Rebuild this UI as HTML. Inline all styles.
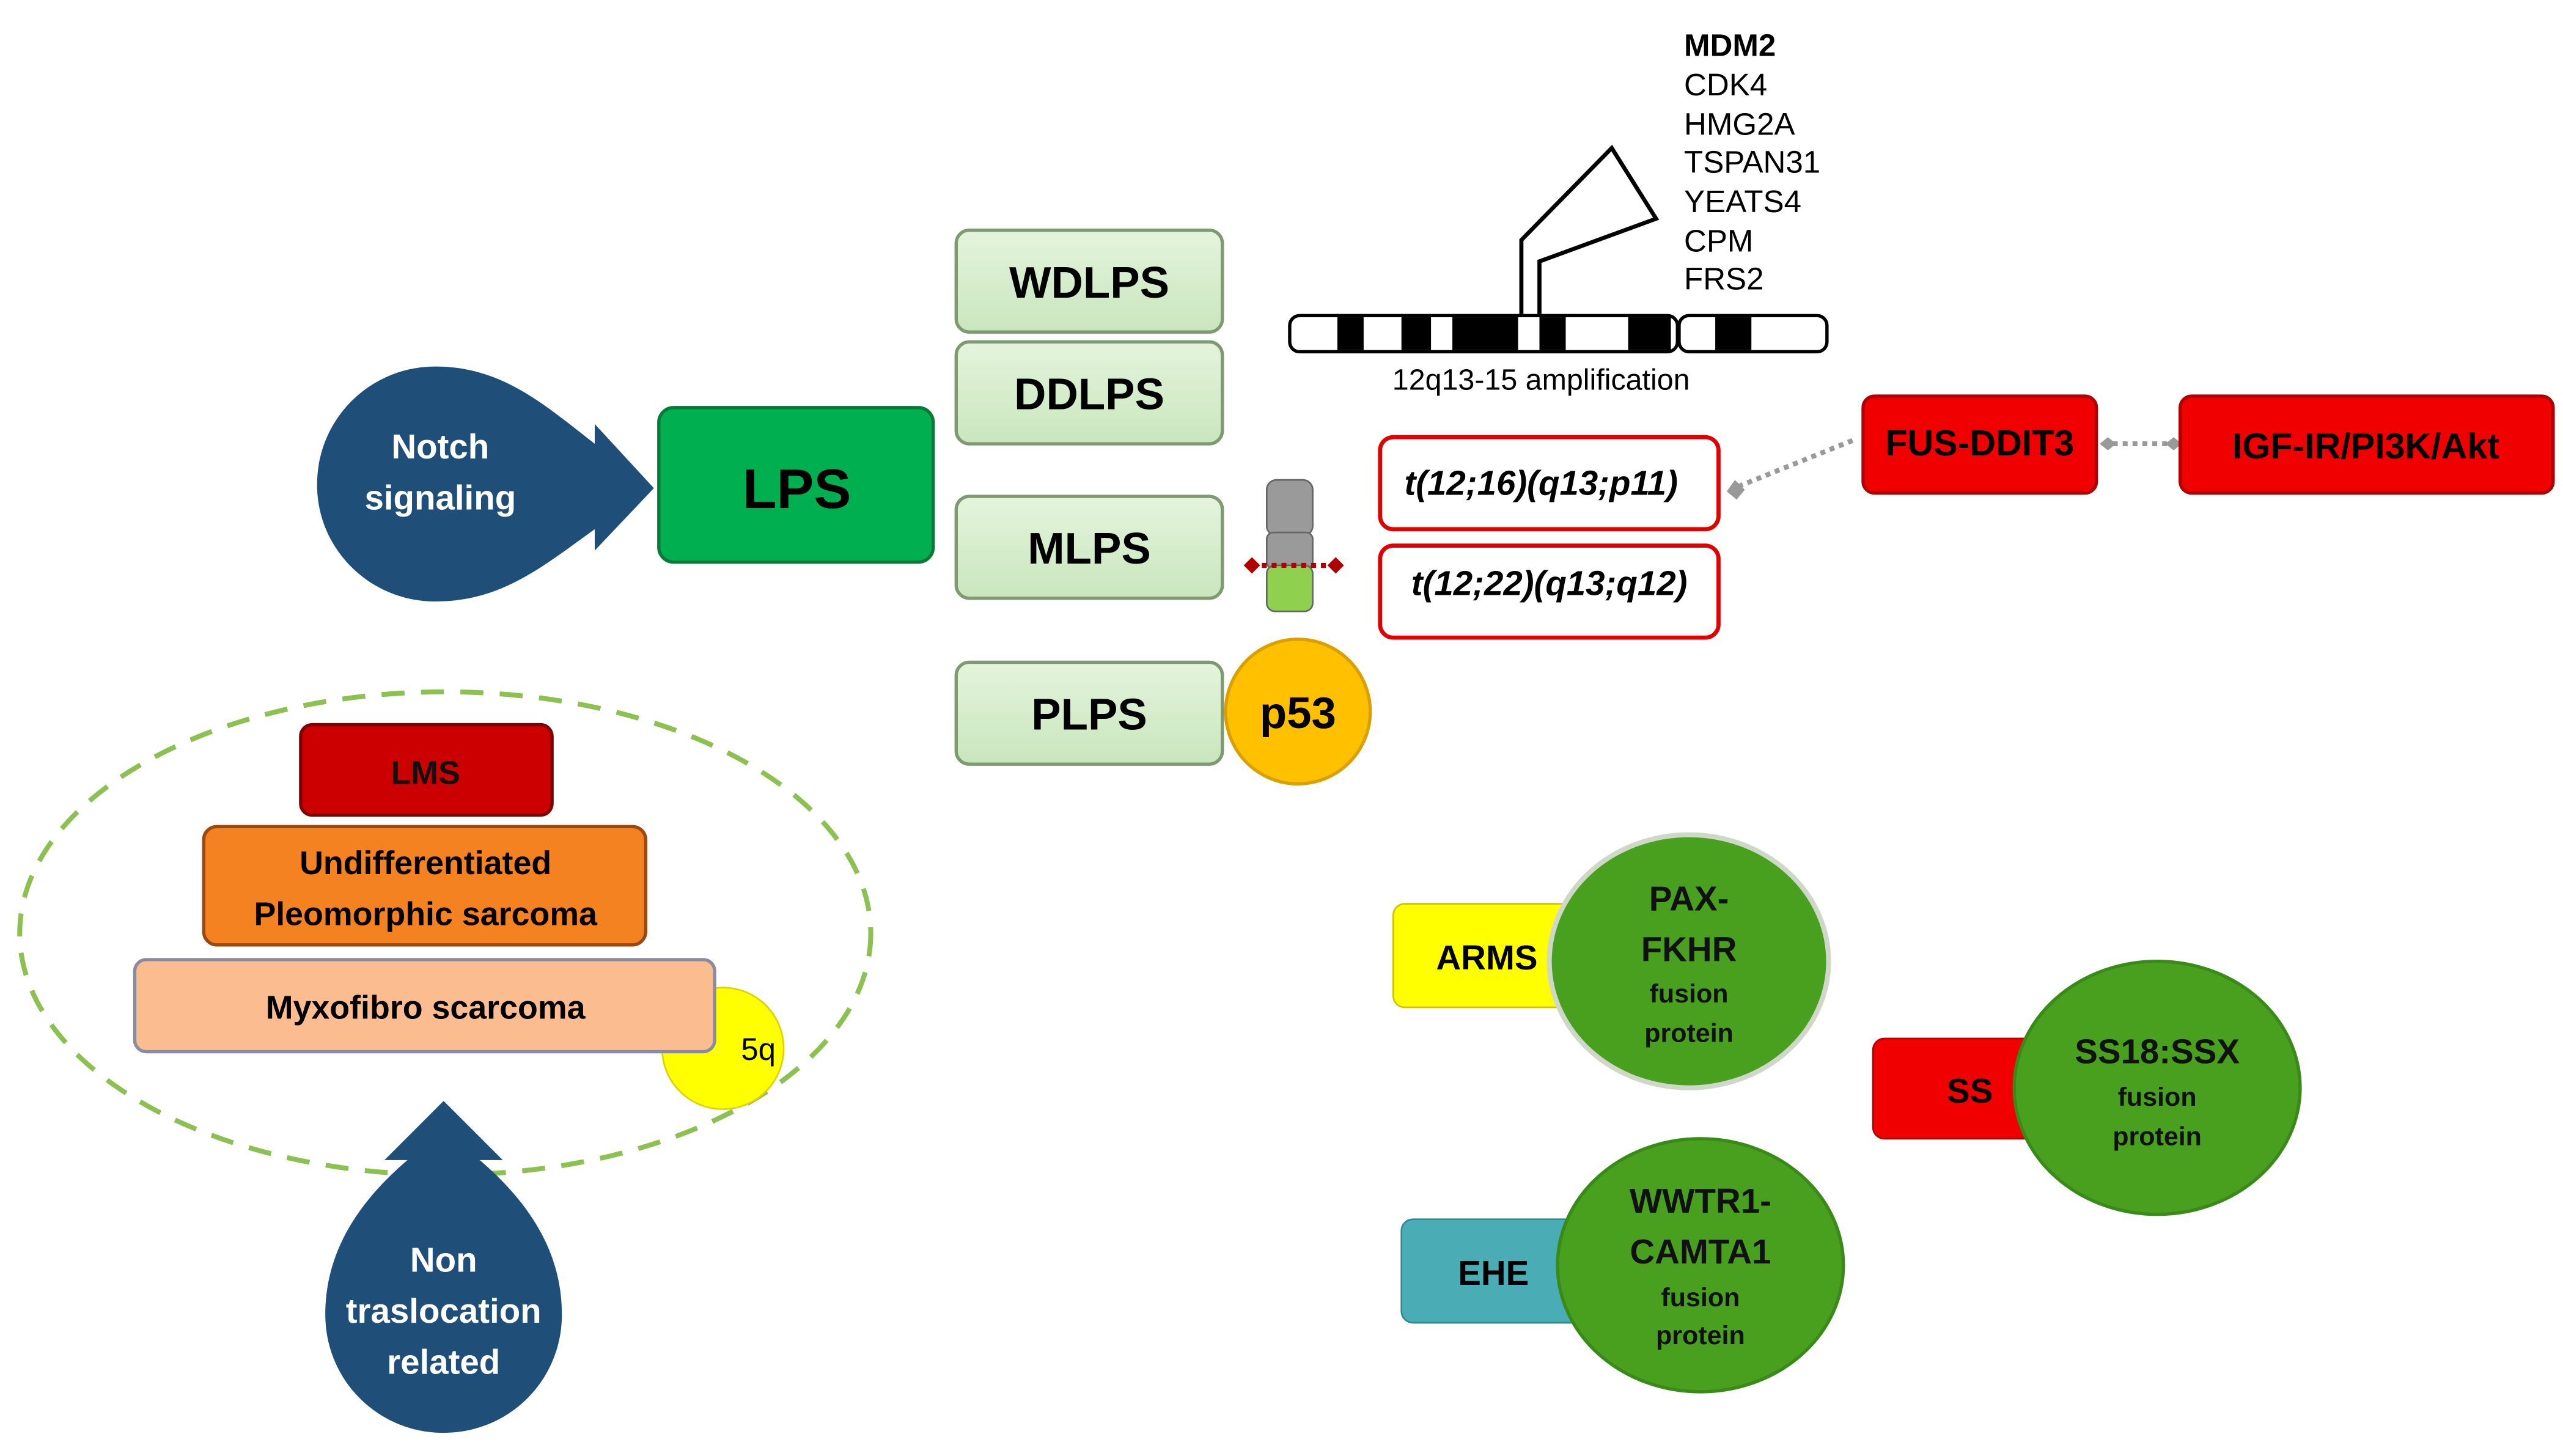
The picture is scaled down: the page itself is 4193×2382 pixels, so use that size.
<!DOCTYPE html>
<html><head><meta charset="utf-8"><style>
html,body{margin:0;padding:0;background:#fff;}
svg{display:block;}
text{font-family:"Liberation Sans",sans-serif;}
</style></head><body>
<svg width="4193" height="2382" viewBox="0 0 1560 886" xmlns="http://www.w3.org/2000/svg">
<defs>
<linearGradient id="lg" x1="0" y1="0" x2="0" y2="1"><stop offset="0" stop-color="#e4f4dc"/><stop offset="1" stop-color="#c9e6bd"/></linearGradient>
</defs>
<!-- Notch teardrop -->
<path d="M265,223 C305,223 330,245 362,270 L362,258 L398,297 L362,335 L362,322 C330,345 305,366 265,366 C225,366 193,334 193,295 C193,255 225,223 265,223 Z" fill="#1f4e79"/>
<text x="268" y="279" font-size="21" font-weight="bold" fill="#fff" text-anchor="middle">Notch</text>
<text x="268" y="310" font-size="21" font-weight="bold" fill="#fff" text-anchor="middle">signaling</text>
<!-- LPS -->
<rect x="401" y="248" width="167" height="94" rx="9" fill="#00b050" stroke="#0a7a3a" stroke-width="2"/>
<text x="485" y="309" font-size="34" font-weight="bold" text-anchor="middle">LPS</text>
<!-- subtype boxes -->
<g stroke="#7f9a72" stroke-width="2" fill="url(#lg)">
<rect x="582" y="140" width="162" height="62" rx="8"/>
<rect x="582" y="208" width="162" height="62" rx="8"/>
<rect x="582" y="302" width="162" height="62" rx="8"/>
<rect x="582" y="403" width="162" height="62" rx="8"/>
</g>
<g font-size="27" font-weight="bold" text-anchor="middle">
<text x="663" y="181">WDLPS</text>
<text x="663" y="249">DDLPS</text>
<text x="663" y="343">MLPS</text>
<text x="663" y="444">PLPS</text>
</g>
<circle cx="790" cy="433" r="44" fill="#ffc000" stroke="#d9a000" stroke-width="2"/>
<text x="790" y="443" font-size="27" font-weight="bold" text-anchor="middle">p53</text>
<!-- small chromosome -->
<rect x="771" y="292" width="28" height="34" rx="6" fill="#9a9a9a" stroke="#666"/>
<rect x="771" y="324" width="28" height="22" rx="4" fill="#9a9a9a" stroke="#666"/>
<rect x="771" y="344" width="28" height="28" rx="5" fill="#8fd14f" stroke="#666"/>
<line x1="762" y1="344" x2="813" y2="344" stroke="#b00000" stroke-width="3" stroke-dasharray="3,3"/>
<path d="M757,344 L762,339 L767,344 L762,349Z M808,344 L813,339 L818,344 L813,349Z" fill="#b00000"/>
<!-- translocation boxes -->
<rect x="840" y="266" width="206" height="56" rx="8" fill="#fff" stroke="#e00000" stroke-width="2.5"/>
<rect x="840" y="332" width="206" height="56" rx="8" fill="#fff" stroke="#e00000" stroke-width="2.5"/>
<text x="938" y="301" font-size="21" font-weight="bold" font-style="italic" text-anchor="middle">t(12;16)(q13;p11)</text>
<text x="943" y="362" font-size="21" font-weight="bold" font-style="italic" text-anchor="middle">t(12;22)(q13;q12)</text>
<!-- chromosome bar -->
<rect x="785" y="192" width="236" height="22" rx="6" fill="#fff" stroke="#000" stroke-width="2"/>
<rect x="1022" y="192" width="90" height="22" rx="6" fill="#fff" stroke="#000" stroke-width="2"/>
<g fill="#000">
<rect x="814" y="193" width="16" height="20"/>
<rect x="853" y="193" width="18" height="20"/>
<rect x="884" y="193" width="40" height="20"/>
<rect x="937" y="193" width="16" height="20"/>
<rect x="991" y="193" width="26" height="20"/>
<rect x="1044" y="193" width="22" height="20"/>
</g>
<path d="M926,191 L926,146 L981,90 L1008,133 L937,159 L937,191" fill="none" stroke="#000" stroke-width="2.5"/>
<text x="938" y="237" font-size="18" text-anchor="middle">12q13-15 amplification</text>
<g font-size="19">
<text x="1025" y="34" font-weight="bold">MDM2</text>
<text x="1025" y="58">CDK4</text>
<text x="1025" y="82">HMG2A</text>
<text x="1025" y="105">TSPAN31</text>
<text x="1025" y="129">YEATS4</text>
<text x="1025" y="153">CPM</text>
<text x="1025" y="176">FRS2</text>
</g>
<!-- FUS / IGF -->
<line x1="1058" y1="296" x2="1130" y2="267" stroke="#999" stroke-width="3" stroke-dasharray="3,3"/>
<path d="M1051,299 L1056,292 L1062,298 L1057,304Z" fill="#999"/>
<line x1="1280" y1="270" x2="1324" y2="270" stroke="#999" stroke-width="3" stroke-dasharray="3,3"/>
<path d="M1278,270 L1283,266 L1288,270 L1283,274Z M1318,270 L1323,266 L1328,270 L1323,274Z" fill="#999"/>
<rect x="1134" y="241" width="142" height="59" rx="7" fill="#f00000" stroke="#b00000" stroke-width="2"/>
<rect x="1327" y="241" width="227" height="59" rx="7" fill="#f00000" stroke="#b00000" stroke-width="2"/>
<text x="1205" y="277" font-size="22" font-weight="bold" text-anchor="middle">FUS-DDIT3</text>
<text x="1440" y="279" font-size="22" font-weight="bold" text-anchor="middle">IGF-IR/PI3K/Akt</text>
<!-- ellipse group -->
<ellipse cx="271" cy="568" rx="259" ry="147" fill="none" stroke="#8cc152" stroke-width="3" stroke-dasharray="14,10"/>
<circle cx="440" cy="638" r="37" fill="#ffff00" stroke="#e0d000"/>
<text x="451" y="645" font-size="19">5q</text>
<rect x="183" y="441" width="153" height="55" rx="7" fill="#cc0000" stroke="#800000" stroke-width="2"/>
<text x="259" y="477" font-size="20" font-weight="bold" text-anchor="middle" fill="#111">LMS</text>
<rect x="124" y="503" width="269" height="72" rx="8" fill="#f58220" stroke="#9a4a10" stroke-width="2"/>
<text x="259" y="532" font-size="20" font-weight="bold" text-anchor="middle">Undifferentiated</text>
<text x="259" y="563" font-size="20" font-weight="bold" text-anchor="middle">Pleomorphic sarcoma</text>
<rect x="82" y="584" width="353" height="56" rx="7" fill="#fbbd8f" stroke="#8a8aa0" stroke-width="2"/>
<text x="259" y="620" font-size="20" font-weight="bold" text-anchor="middle">Myxofibro scarcoma</text>
<!-- Non traslocation teardrop -->
<path d="M270,670 L306,706 L292,706 C320,730 342,760 342,800 C342,840 310,872 270,872 C230,872 198,840 198,800 C198,760 220,730 248,706 L234,706 Z" fill="#1f4e79"/>
<text x="270" y="774" font-size="21" font-weight="bold" fill="#fff" text-anchor="middle">Non</text>
<text x="270" y="805" font-size="21" font-weight="bold" fill="#fff" text-anchor="middle">traslocation</text>
<text x="270" y="836" font-size="21" font-weight="bold" fill="#fff" text-anchor="middle">related</text>
<!-- fusion groups -->
<rect x="848" y="550" width="120" height="63" rx="7" fill="#ffff00" stroke="#d0c000"/>
<text x="905" y="590" font-size="21" font-weight="bold" text-anchor="middle">ARMS</text>
<ellipse cx="1028" cy="585" rx="85" ry="77" fill="#48a01e" stroke="#cfd8c8" stroke-width="3"/>
<rect x="1140" y="632" width="110" height="61" rx="7" fill="#f00000" stroke="#b00000"/>
<text x="1199" y="671" font-size="21" font-weight="bold" text-anchor="middle">SS</text>
<ellipse cx="1313" cy="662" rx="87" ry="77" fill="#48a01e" stroke="#3a8a1a" stroke-width="2"/>
<rect x="853" y="742" width="120" height="63" rx="7" fill="#4aacb4" stroke="#308890"/>
<text x="909" y="782" font-size="21" font-weight="bold" text-anchor="middle">EHE</text>
<ellipse cx="1035" cy="770" rx="87" ry="77" fill="#48a01e" stroke="#3a8a1a" stroke-width="2"/>
<g font-weight="bold" text-anchor="middle" fill="#111">
<text x="1028" y="554" font-size="21">PAX-</text>
<text x="1028" y="585" font-size="21">FKHR</text>
<text x="1028" y="610" font-size="16">fusion</text>
<text x="1028" y="634" font-size="16">protein</text>
<text x="1313" y="647" font-size="21">SS18:SSX</text>
<text x="1313" y="673" font-size="16">fusion</text>
<text x="1313" y="697" font-size="16">protein</text>
<text x="1035" y="738" font-size="21">WWTR1-</text>
<text x="1035" y="769" font-size="21">CAMTA1</text>
<text x="1035" y="795" font-size="16">fusion</text>
<text x="1035" y="818" font-size="16">protein</text>
</g>
</svg>
</body></html>
